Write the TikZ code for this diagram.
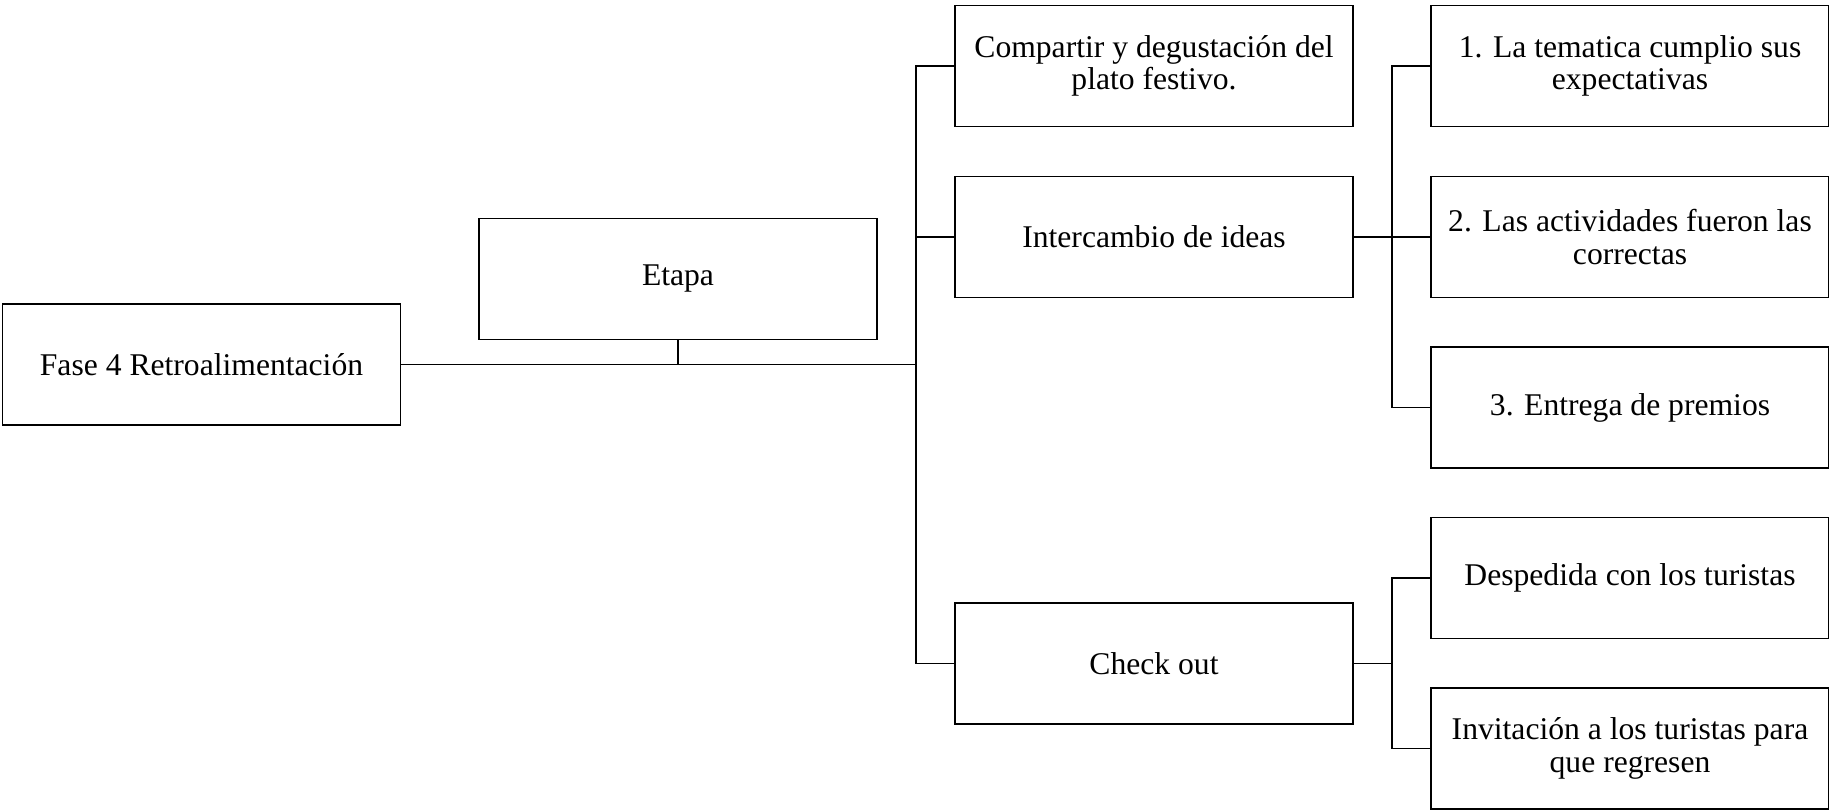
\documentclass[tikz,border=0pt]{standalone}
\usepackage{fontspec}
\setmainfont{Liberation Serif}

\begin{document}
\begin{tikzpicture}[x=0.02cm,y=-0.02cm,line width=0.9pt,
  box/.style={draw,minimum width=7.96cm,minimum height=2.42cm,align=center,
    inner sep=2pt,font=\fontsize{18}{18.5}\selectfont}]
 \useasboundingbox (0,0) rectangle (1829,811);
 \node[box] (fase) at (201.5,364.5) {Fase 4 Retroalimentación};
 \node[box] (etapa) at (678,279) {Etapa};
 \node[box] (plato) at (1154,66) {Compartir y degustación del\\plato festivo.};
 \node[box] (ideas) at (1154,237) {Intercambio de ideas};
 \node[box] (check) at (1154,663.5) {Check out};
 \node[box] (tema) at (1630,66) {1. La tematica cumplio sus\\expectativas};
 \node[box] (activ) at (1630,237) {2. Las actividades fueron las\\correctas};
 \node[box] (premios) at (1630,407.5) {3. Entrega de premios};
 \node[box] (despedida) at (1630,578) {Despedida con los turistas};
 \node[box] (invitacion) at (1630,748.5) {Invitación a los turistas para\\que regresen};
 \coordinate (tronco) at (916,364.5);
 \coordinate (rama) at (1392,237);
 \coordinate (salida) at (1392,663.5);
 % tronco principal
 \draw[line width=1.1pt] (fase) -- (tronco);
 \draw (etapa) -- (etapa |- tronco);
 \draw (plato.west) -| (tronco) |- (check.west);
 \draw (ideas.west) -- (ideas.west -| tronco);
 % ramas de la derecha
 \draw (ideas) -- (rama);
 \draw (tema.west) -| (rama) |- (premios.west);
 \draw (activ) -- (rama);
 \draw (check) -- (salida);
 \draw (despedida.west) -| (salida) |- (invitacion.west);
\end{tikzpicture}
\end{document}
